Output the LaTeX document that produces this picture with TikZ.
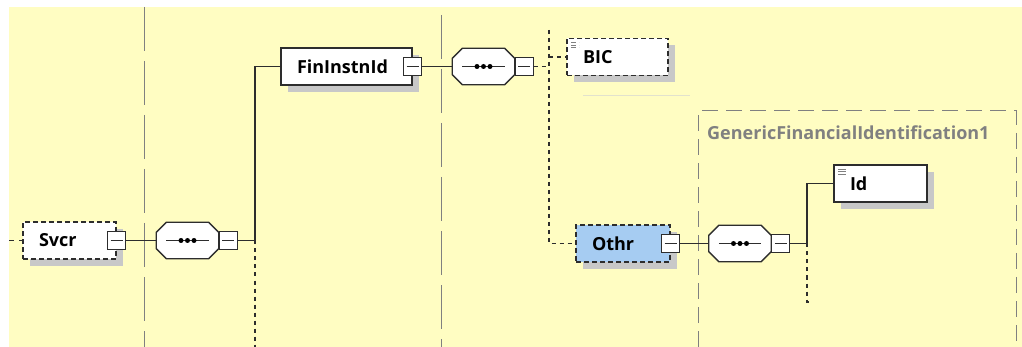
\documentclass[tikz,border=0pt]{standalone}
\usepackage{fontspec}
\setsansfont{Open Sans}
\usetikzlibrary{shadows}

\definecolor{paper}{RGB}{255,253,194}
\definecolor{lineC}{RGB}{45,45,45}
\definecolor{shadowC}{RGB}{200,200,200}
\definecolor{optBlue}{RGB}{166,204,242}
\definecolor{colGray}{RGB}{128,128,128}
\definecolor{faintC}{RGB}{226,226,205}

\newcommand\elemfont{\sffamily\bfseries\fontsize{18}{20}\selectfont}

% octagonal sequence compositor drawn round an (invisible) node
\newcommand\seqbody[1]{%
    \path (#1.north west) ++(10,0) coordinate (#1-a)
          (#1.north east) ++(-10,0) coordinate (#1-b)
          (#1.north east) ++(0,10) coordinate (#1-c)
          (#1.south east) ++(0,-10) coordinate (#1-d)
          (#1.south east) ++(-10,0) coordinate (#1-e)
          (#1.south west) ++(10,0) coordinate (#1-f)
          (#1.south west) ++(0,-10) coordinate (#1-g)
          (#1.north west) ++(0,10) coordinate (#1-h);
    \fill[shadowC, shift={(7,7)}] (#1-a) -- (#1-b) -- (#1-c) -- (#1-d) -- (#1-e) -- (#1-f) -- (#1-g) -- (#1-h) -- cycle;
    \filldraw[fill=white, draw=lineC, line width=1.3pt] (#1-a) -- (#1-b) -- (#1-c) -- (#1-d) -- (#1-e) -- (#1-f) -- (#1-g) -- (#1-h) -- cycle;
    \draw[lineC, line width=1.2pt] ([xshift=10pt]#1.west) -- ([xshift=-10pt]#1.east);
    \foreach \k in {-6.5,0,6.5}
        \fill[black] ([xshift=\k pt]#1.center) circle (2.5pt);
}

\begin{document}
\begin{tikzpicture}[x=1pt, y=-1pt,
    conn/.style={draw=lineC, line width=1.3pt},
    dots/.style={conn, dash pattern=on 4pt off 4pt},
    colline/.style={draw=colGray, line width=1pt, dash pattern=on 44pt off 10pt},
    boxshadow/.style={drop shadow={shadow xshift=7pt, shadow yshift=-7pt, fill=shadowC, opacity=1}},
    elem/.style={draw=lineC, line width=1.3pt, fill=white, text width=#1,
        inner xsep=16pt, inner ysep=0pt, minimum height=37pt, align=left,
        font=\elemfont, text=black, boxshadow},
    optional/.style={dash pattern=on 5pt off 3pt},
    docicon/.style={path picture={
        \foreach \k in {4,6.5,9}
            \draw[colGray, line width=0.9pt] ([xshift=4pt, yshift=-\k pt]path picture bounding box.north west) -- ++(8pt,0pt);
    }},
    minus/.style={draw=lineC, line width=1.2pt, fill=white, minimum size=18pt, inner sep=0pt,
        path picture={
            \draw[lineC, line width=0.8pt] ([xshift=3pt]path picture bounding box.west) -- ([xshift=-3pt]path picture bounding box.east);
    }},
    seq/.style={rectangle, minimum width=62pt, minimum height=36pt, inner sep=0pt}
]
    % ==== CANVAS ====
    \useasboundingbox (0,0) rectangle (1022,347);
    \fill[white] (0,0) rectangle (1022,347);
    \fill[paper] (9,7) rectangle (1022,347);

    % ==== COLUMN SEPARATORS ====
    \draw[colline] (144,7) -- (144,347);
    \draw[colline] (441,15) -- (441,347);

    % ==== COMPLEX TYPE FRAME ====
    \draw[draw=colGray, line width=1pt, dash pattern=on 16pt off 8pt] (698,347) -- (698,111) -- (1016,111) -- (1016,347);
    \node[anchor=west, inner sep=0pt, text=colGray, font=\elemfont] (genTitle) at (707,133) {GenericFinancialIdentification1};
    \draw[faintC, line width=0.8pt] (583,95) -- (690,95);

    % ==== ELEMENTS ====
    \node[elem=61, optional] (svcr) at (69.5,240.5) {Svcr};
    \node[minus] (svcrMinus) at (svcr.east) {};

    \node[seq] (seqA) at (187.5,240.5) {};
    \seqbody{seqA}
    \node[minus, anchor=west] (seqAMinus) at (seqA.east) {};

    \node[elem=99] (fin) at (346.5,66.5) {FinInstnId};
    \node[minus] (finMinus) at (fin.east) {};

    \node[seq] (seqB) at (483.5,66.5) {};
    \seqbody{seqB}
    \node[minus, anchor=west] (seqBMinus) at (seqB.east) {};

    \node[elem=69, optional, docicon] (bic) at (617.5,57) {BIC};

    \node[elem=62, optional, fill=optBlue] (othr) at (623,243.5) {Othr};
    \node[minus] (othrMinus) at (othr.east) {};

    \node[seq] (seqC) at (740,243.5) {};
    \seqbody{seqC}
    \node[minus, anchor=west] (seqCMinus) at (seqC.east) {};

    \node[elem=61, docicon] (id) at (880.5,183.5) {Id};

    % ==== JUNCTIONS ====
    \coordinate (inSvcr) at (9,240.5);
    \coordinate (jA) at (255,240.5);
    \coordinate (jAend) at (255,347);
    \coordinate (jB) at (549,66.5);
    \coordinate (jBtop) at (549,30);
    \coordinate (jC) at (807,243.5);
    \coordinate (jCend) at (807,302);

    % ==== CONNECTORS ====
    \draw[conn, dash pattern=on 5pt off 5pt] (inSvcr) -- (svcr.west);
    \draw[conn] (svcrMinus.east) -- (seqA.west);
    \draw[conn] (seqAMinus.east) -- (jA) |- (fin.west);
    \draw[dots] (jA) -- (jAend);
    \draw[conn] (finMinus.east) -- (seqB.west);
    \draw[dots] (seqBMinus.east) -- (jB);
    \draw[dots] (jBtop) -- (jBtop |- othr.west) -- (othr.west);
    \draw[dots] (jBtop |- bic.west) -- (bic.west);
    \draw[conn] (othrMinus.east) -- (seqC.west);
    \draw[conn] (seqCMinus.east) -- (jC) |- (id.west);
    \draw[dots] (jC) -- (jCend) -- ++(4,0);
\end{tikzpicture}
\end{document}
